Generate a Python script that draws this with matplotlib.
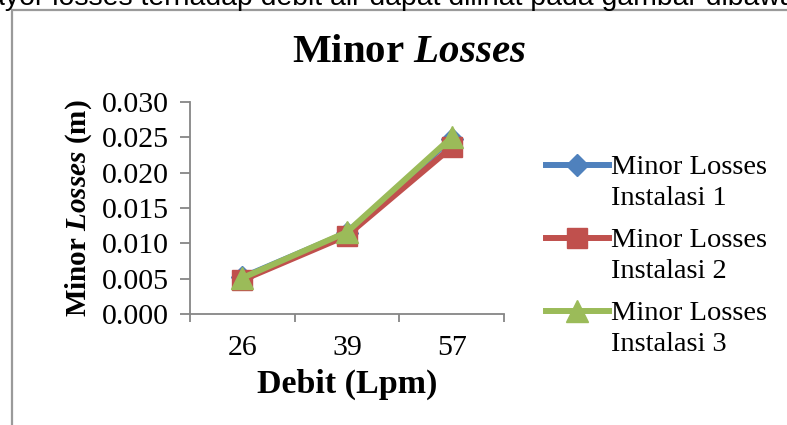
import matplotlib
matplotlib.use("Agg")
import matplotlib.pyplot as plt
from matplotlib.patches import Rectangle

plt.rcParams['mathtext.fontset'] = 'custom'
plt.rcParams['mathtext.rm'] = 'Liberation Serif'
plt.rcParams['mathtext.it'] = 'Liberation Serif:italic'
plt.rcParams['mathtext.bf'] = 'Liberation Serif:bold'
plt.rcParams['mathtext.bfit'] = 'Liberation Serif:italic:bold'

categories = ["26", "39", "57"]
series_names = ["Minor Losses\nInstalasi 1", "Minor Losses\nInstalasi 2", "Minor Losses\nInstalasi 3"]
inst1 = [0.0052, 0.0115, 0.0248]
inst2 = [0.0048, 0.0111, 0.0236]
inst3 = [0.0051, 0.0116, 0.0250]
y_ticks = [0.000, 0.005, 0.010, 0.015, 0.020, 0.025, 0.030]
y_tick_labels = ["0.000", "0.005", "0.010", "0.015", "0.020", "0.025", "0.030"]

colors = ["#4F81BD", "#C0504D", "#9BBB59"]
markers = ["D", "s", "^"]
msizes = [11, 14, 16]

W, H = 787, 425
fig = plt.figure(figsize=(W / 100, H / 100), dpi=100)
fig.patch.set_facecolor("white")

# outer chart frame (extends beyond image right/bottom)
fig.patches.append(Rectangle((12 / W, -0.2), 1.5, 1 - 10 / H + 0.2, transform=fig.transFigure,
                             fill=False, edgecolor="#9a9a9a", linewidth=1.6))

# cut-off document text at top
fig.text(-11 / W, 1 - 5 / H, "ayor losses terhadap debit air dapat dilihat pada gambar dibawah ini.",
         family="Liberation Sans", fontsize=20.4, va="baseline", ha="left", color="black")

ax = fig.add_axes([190 / W, 1 - 314 / H, (504 - 190) / W, (314 - 102) / H])
x = list(range(len(categories)))
series = [inst1, inst2, inst3]
for vals, name, c, m, ms in zip(series, series_names, colors, markers, msizes):
    ax.plot(x, vals, color=c, marker=m, markersize=ms, linewidth=4.3, label=name,
            markerfacecolor=c, markeredgecolor=c)

ax.set_xlim(-0.5, len(categories) - 0.5)
ax.set_ylim(0, 0.030)
ax.set_yticks(y_ticks)
ax.set_yticklabels(y_tick_labels)
ax.set_xticks(x)
ax.set_xticklabels(categories)
ax.set_xticks([i - 0.5 for i in range(len(categories) + 1)], minor=True)

for s in ["top", "right"]:
    ax.spines[s].set_visible(False)
for s in ["left", "bottom"]:
    ax.spines[s].set_color("#868686")
    ax.spines[s].set_linewidth(1.3)

ax.tick_params(axis="y", direction="out", length=7, width=1.3, color="#868686", pad=8,
               labelsize=21.5, labelfontfamily="Liberation Serif")
ax.tick_params(axis="x", which="major", length=0, pad=15, labelsize=21.5,
               labelfontfamily="Liberation Serif")
ax.tick_params(axis="x", which="minor", direction="out", length=6, width=1.3, color="#868686")

fig.text(409 / W, 1 - 53 / H, r"Minor $\mathbfit{Losses}$", fontsize=29.5, fontweight="bold",
         family="Liberation Serif", ha="center", va="center")
ax.set_xlabel("Debit (Lpm)", fontsize=24.5, fontweight="bold", family="Liberation Serif", labelpad=6)
ax.set_ylabel(r"Minor $\mathbfit{Losses}$ (m)", fontsize=21, fontweight="bold",
              family="Liberation Serif", labelpad=6)

leg = fig.legend(loc="upper left", bbox_to_anchor=(546 / W, 1 - 155 / H), frameon=False,
                 prop={"family": "Liberation Serif", "size": 20.5}, handlelength=2.2,
                 handletextpad=0.1, labelspacing=0.6, borderpad=0, borderaxespad=0)
for t in leg.get_texts():
    t.set_linespacing(1.32)
for col in leg._legend_handle_box.get_children():
    for hp in col.get_children():
        hp.align = "top"

fig.savefig("out.png", dpi=100)
